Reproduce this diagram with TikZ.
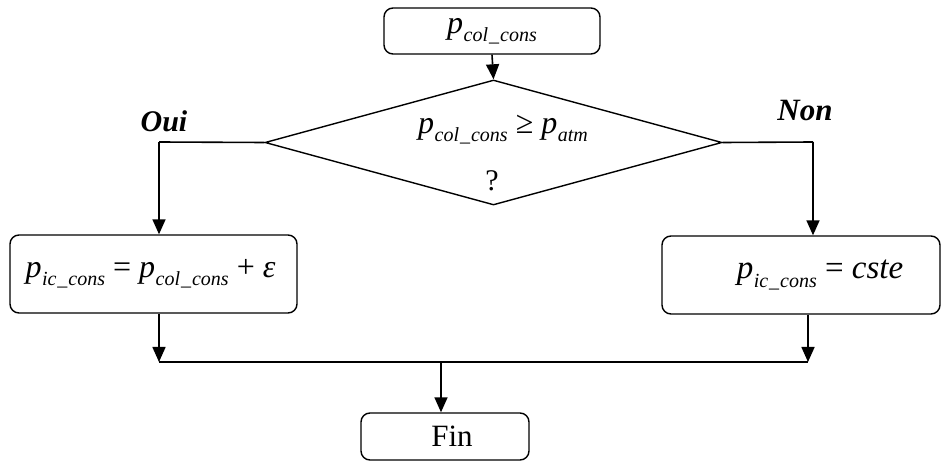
\documentclass[tikz,border=0pt]{standalone}
\usepackage{fontspec}
\setmainfont{Liberation Serif}
\usetikzlibrary{shapes.geometric,arrows.meta}
\newcommand\pvar[1]{\textit{p}\kern0.5pt\raisebox{-0.55ex}{\fontsize{20}{20}\selectfont\textit{#1}}}
\begin{document}
\begin{tikzpicture}[x=1pt,y=-1pt,
  box/.style={draw,line width=1.4pt,rounded corners=9pt,inner sep=0pt},
  lbl/.style={inner sep=0pt},
  conn/.style={line width=1.6pt},
  arr/.style={line width=1.6pt,-{Triangle[width=13pt,length=15pt]}},
  every node/.style={font=\fontsize{32}{34}\selectfont}]
\useasboundingbox (0,0) rectangle (943,462);
\node[box,minimum width=216pt,minimum height=46pt] (start) at (492,31) {\pvar{col\kern1pt\_\kern1pt cons}};
\node[draw,diamond,line width=1.4pt,minimum width=457pt,minimum height=125pt,inner sep=0pt] (dec) at (493.5,142.5) {};
\node[lbl] (cond) at (503,130) {\pvar{col\kern1pt\_\kern1pt cons} ≥ \pvar{atm}};
\node[lbl,font=\fontsize{30}{32}\selectfont] (q) at (492,181) {?};
\node[box,minimum width=287pt,minimum height=78pt] (left) at (153.5,274) {\kern-6pt\pvar{ic\kern1pt\_\kern1pt cons} = \pvar{col\kern1pt\_\kern1pt cons} + \textit{ε}};
\node[box,minimum width=278pt,minimum height=78pt] (right) at (801,275) {\kern38pt\fontsize{33}{34}\selectfont\pvar{ic\kern1pt\_\kern1pt cons} = \textit{cste}};
\node[box,minimum width=168pt,minimum height=47pt] (fin) at (445,436.5) {\kern14pt\fontsize{31}{32}\selectfont Fin};
\node[lbl,font=\fontsize{30}{32}\selectfont\bfseries\itshape] (oui) at (164,121) {Oui};
\node[lbl,font=\fontsize{31}{32}\selectfont\bfseries\itshape] (non) at (805,111) {Non};
\coordinate (lc) at (159,142);
\coordinate (rc) at (813,142);
\coordinate (jl) at (159,362);
\coordinate (jr) at (808,362);
\coordinate (jm) at (441,362);
\draw[arr] (start.south) -- (dec.north);
\draw[conn] (dec.west) -- (lc);
\draw[arr] (lc) -- (lc |- left.north);
\draw[conn] (dec.east) -- (rc);
\draw[arr] (rc) -- (rc |- right.north);
\draw[arr] (left.south -| jl) -- (jl);
\draw[arr] (right.south -| jr) -- (jr);
\draw[conn] (jl) -- (jr);
\draw[arr] (jm) -- (jm |- fin.north);
\end{tikzpicture}
\end{document}
